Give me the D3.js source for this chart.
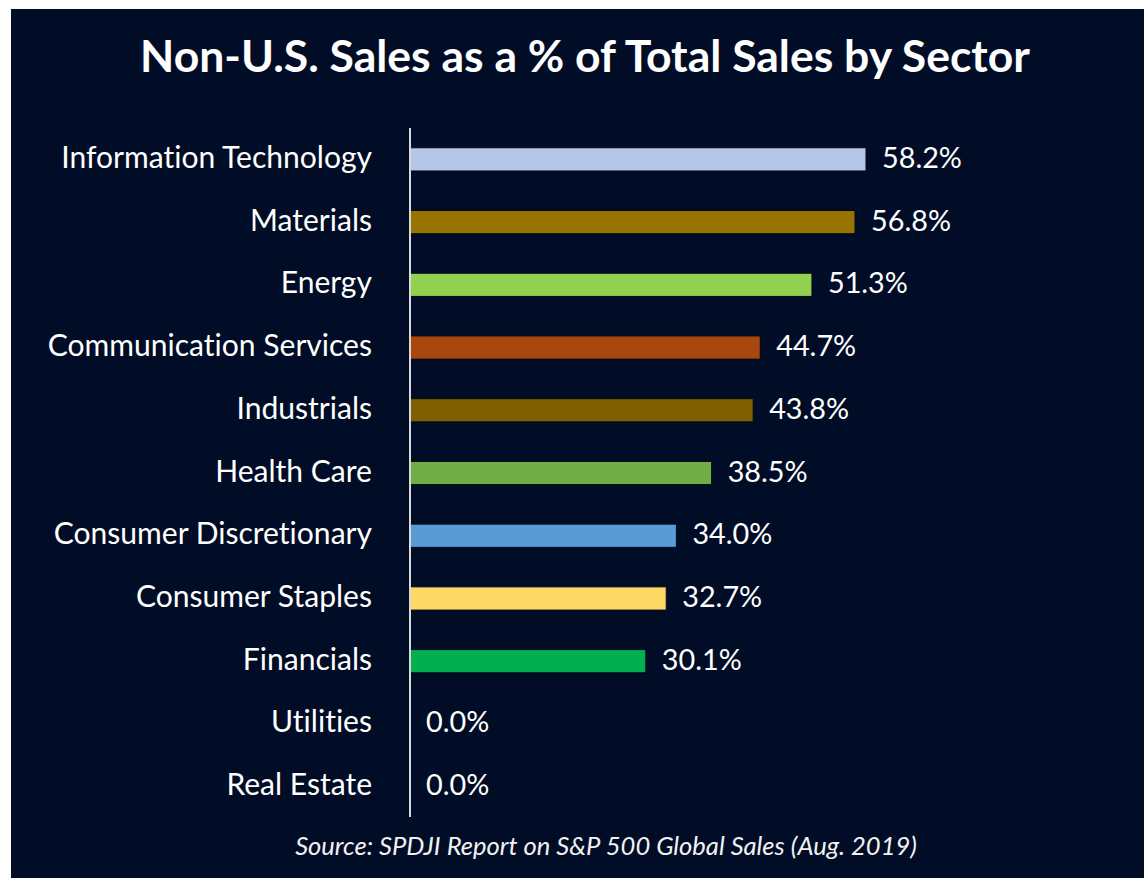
<!DOCTYPE html>
<html>
<head>
<meta charset="utf-8">
<script src="https://cdn.jsdelivr.net/npm/d3@7"></script>
<style>
  body { margin: 0; background: #fff; }
  svg { display: block; }
  text { font-variant-ligatures: none; }
</style>
</head>
<body>
<div id="chart"></div>
<script>
const sectors = ["Information Technology", "Materials", "Energy", "Communication Services",
  "Industrials", "Health Care", "Consumer Discretionary", "Consumer Staples",
  "Financials", "Utilities", "Real Estate"];
const values = [58.2, 56.8, 51.3, 44.7, 43.8, 38.5, 34.0, 32.7, 30.1, 0.0, 0.0];
const barColors = ["#b4c7e7", "#997300", "#92d050", "#a8480f", "#7f6000", "#70ad47",
  "#5b9bd5", "#ffd966", "#00b050", "#7f7f7f", "#7f7f7f"];
const title = "Non-U.S. Sales as a % of Total Sales by Sector";
const source = "Source: SPDJI Report on S&P 500 Global Sales (Aug. 2019)";

const w = 1144, h = 878;
const font = "Lato, 'Open Sans', sans-serif";

const svg = d3.select("#chart").append("svg")
  .attr("width", w)
  .attr("height", h);

// dark panel
svg.append("rect")
  .attr("x", 11).attr("y", 9)
  .attr("width", w - 11).attr("height", h - 9)
  .attr("fill", "#010d26");

const x = d3.scaleLinear().domain([0, 58.2]).range([410, 866]);
const y = d3.scaleBand().domain(sectors).range([128, 818])
  .paddingInner(0.63).paddingOuter(0.315);

// fits a text element to a target width by tuning its font size
const fit = (sel, width) => {
  const node = sel.node();
  const fs = parseFloat(sel.attr("font-size"));
  const len = node.getComputedTextLength();
  sel.attr("font-size", fs * width / len);
};

const t = svg.append("text")
  .attr("x", 585).attr("y", 72)
  .attr("text-anchor", "middle")
  .attr("fill", "#fff")
  .attr("font-family", font)
  .attr("font-weight", "bold")
  .attr("font-size", 36)
  .text(title);
fit(t, 890);

const rows = sectors.map((s, i) => ({ name: s, value: values[i], color: barColors[i] }));

svg.selectAll(".bar")
  .data(rows.filter(d => d.value > 0))
  .join("rect")
  .attr("class", "bar")
  .attr("x", x(0))
  .attr("y", d => y(d.name))
  .attr("width", d => x(d.value) - x(0))
  .attr("height", y.bandwidth())
  .attr("fill", d => d.color)
  .attr("stroke", "#00081a")
  .attr("stroke-width", 1);

// category labels
svg.selectAll(".cat")
  .data(rows)
  .join("text")
  .attr("class", "cat")
  .attr("x", 372)
  .attr("y", d => y(d.name) + y.bandwidth() / 2 + 8.5)
  .attr("text-anchor", "end")
  .attr("fill", "#fff")
  .attr("font-family", font)
  .attr("font-size", 25)
  .text(d => d.name);
fit(svg.select(".cat"), 311);
const catSize = svg.select(".cat").attr("font-size");
svg.selectAll(".cat").attr("font-size", catSize);

// value labels
svg.selectAll(".val")
  .data(rows)
  .join("text")
  .attr("class", "val")
  .attr("x", d => x(d.value) + 16)
  .attr("y", d => y(d.name) + y.bandwidth() / 2 + 8.5)
  .attr("fill", "#fff")
  .attr("font-family", font)
  .attr("font-size", 25)
  .text(d => d.value.toFixed(1) + "%");
fit(svg.select(".val"), 80);
const valSize = svg.select(".val").attr("font-size");
svg.selectAll(".val").attr("font-size", valSize);

// vertical axis line
svg.append("line")
  .attr("x1", x(0)).attr("x2", x(0))
  .attr("y1", 128).attr("y2", 817)
  .attr("stroke", "#d9d9d9")
  .attr("stroke-width", 2);

const s = svg.append("text")
  .attr("x", 606).attr("y", 855)
  .attr("text-anchor", "middle")
  .attr("fill", "#f2f2f2")
  .attr("font-family", font)
  .attr("font-style", "italic")
  .attr("font-size", 22)
  .text(source);
fit(s, 622);
</script>
</body>
</html>
